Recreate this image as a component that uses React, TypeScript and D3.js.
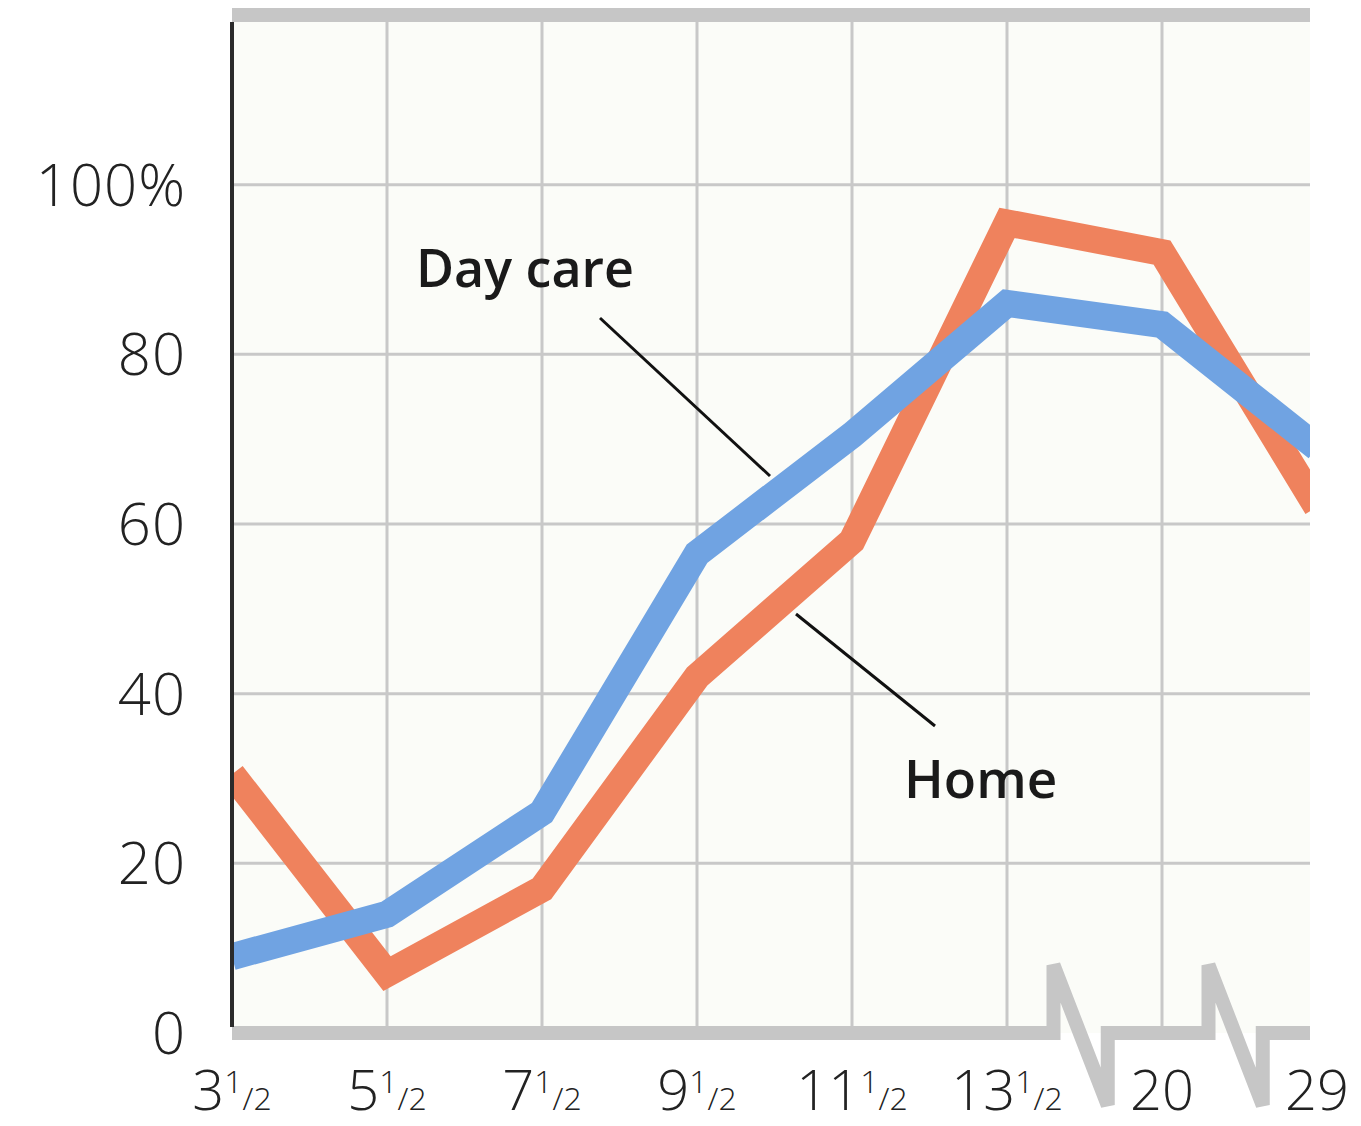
import React from "react";
import * as d3 from "d3";

const categories = ["3½", "5½", "7½", "9½", "11½", "13½", "20", "29"];
const whole = ["3", "5", "7", "9", "11", "13", "20", "29"];
const hasHalf = [true, true, true, true, true, true, false, false];
const dayCare = [9, 14, 26, 56.5, 70.5, 86, 83.5, 69];
const home = [30.5, 7, 17, 42, 58, 95.5, 92, 62];
const yTicks = [0, 20, 40, 60, 80, 100];
const breakAfter = [5, 6];

const W = 1361;
const H = 1126;
const left = 232;
const right = 1310;
const font = "'Open Sans', 'DejaVu Sans', sans-serif";

export default function App() {
  const x = d3
    .scalePoint<string>()
    .domain(categories)
    .range([left, left + 7 * 155]);
  const y = d3.scaleLinear().domain([0, 120]).range([1033, 15]);
  const step = x.step();

  const line = d3
    .line<number>()
    .x((_, i) => x(categories[i]) as number)
    .y((d) => y(d));

  const grid = "#c8c8c8";
  const axisGray = "#c6c6c6";

  return (
    <div style={{ position: "absolute", left: 0, top: 0 }}>
      <svg width={W} height={H} style={{ display: "block", background: "#fff" }}>
        <defs>
          <clipPath id="plot">
            <rect x={left} y={y(120)} width={right - left} height={y(0) - y(120)} />
          </clipPath>
        </defs>
        <rect x={left} y={y(120)} width={right - left} height={y(0) - y(120)} fill="#fbfcf8" />
        {yTicks
          .filter((t) => t > 0)
          .map((t) => (
            <line key={t} x1={left} x2={right} y1={y(t)} y2={y(t)} stroke={grid} strokeWidth={3} />
          ))}
        {categories.slice(1, 7).map((c) => (
          <line
            key={c}
            x1={x(c)}
            x2={x(c)}
            y1={y(120)}
            y2={y(0)}
            stroke={grid}
            strokeWidth={3}
          />
        ))}
        <line x1={left} x2={right} y1={y(120)} y2={y(120)} stroke={axisGray} strokeWidth={14} />
        {(() => {
          const b0 = y(0);
          let d = `M${left},${b0}`;
          breakAfter.forEach((i) => {
            const xi = x(categories[i]) as number;
            const up = xi + 0.3 * step;
            const down = xi + 0.65 * step;
            d += ` H${up} V${y(8)} L${down},${y(-8.5)} V${b0}`;
          });
          d += ` H${right}`;
          return (
            <path
              d={d}
              fill="none"
              stroke={axisGray}
              strokeWidth={14}
              strokeLinejoin="miter"
              strokeMiterlimit={2}
            />
          );
        })()}
        <g clipPath="url(#plot)">
          <path d={line(home) || ""} fill="none" stroke="#ef825d" strokeWidth={27} strokeLinejoin="miter" />
          <path d={line(dayCare) || ""} fill="none" stroke="#70a3e2" strokeWidth={27} strokeLinejoin="miter" />
        </g>
        <line x1={left} x2={left} y1={y(120) + 7} y2={y(0) - 6} stroke="#2b2b2b" strokeWidth={4} />
        {yTicks.map((t) => (
          <text
            key={t}
            x={186}
            y={y(t) + 21}
            textAnchor="end"
            fontFamily={font}
            fontSize={58}
            fontWeight={300}
            letterSpacing={1}
            fill="#222"
          >
            {t === 100 ? "100%" : String(t)}
          </text>
        ))}
        {categories.map((c, i) => (
          <text
            key={c}
            x={x(c)}
            y={1110}
            textAnchor="middle"
            fontFamily={font}
            fontSize={56}
            fontWeight={300}
            fill="#222"
          >
            {whole[i]}
            {hasHalf[i] && (
              <>
                <tspan fontSize={32} dy={-17}>
                  1
                </tspan>
                <tspan fontSize={32} dy={17}>
                  /2
                </tspan>
              </>
            )}
          </text>
        ))}
        <text x={416} y={287} fontFamily={font} fontSize={52} fontWeight={600} fill="#1a1a1a">
          Day care
        </text>
        <line x1={600} y1={318} x2={770} y2={476} stroke="#111" strokeWidth={3} />
        <text x={904} y={798} fontFamily={font} fontSize={53} fontWeight={600} fill="#1a1a1a">
          Home
        </text>
        <line x1={796} y1={614} x2={935} y2={726} stroke="#111" strokeWidth={3} />
      </svg>
    </div>
  );
}
